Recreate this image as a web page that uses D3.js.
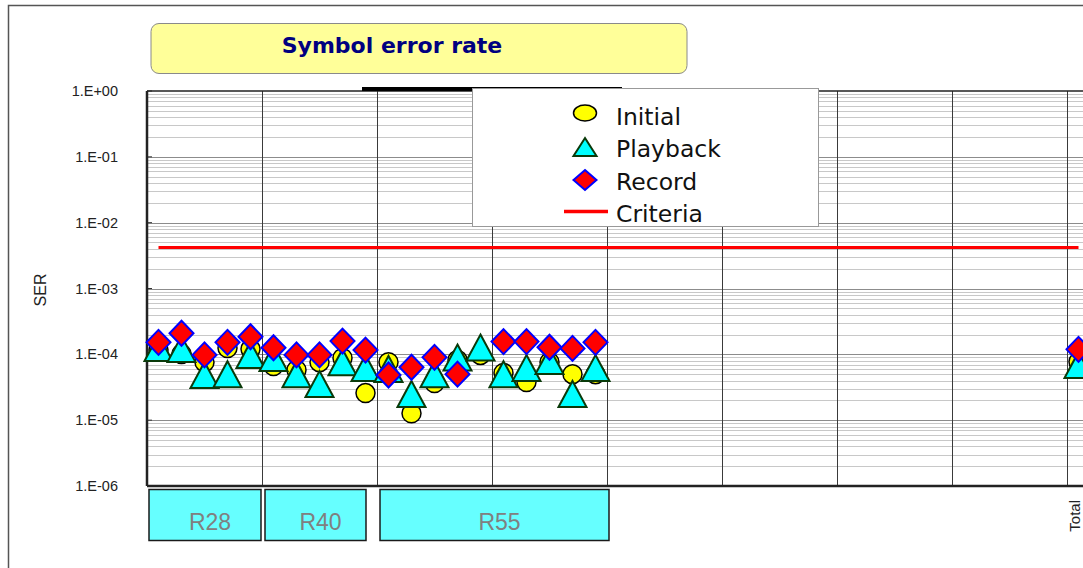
<!DOCTYPE html>
<html><head><meta charset="utf-8">
<script src="https://cdn.jsdelivr.net/npm/d3@7"></script>
<style>body{margin:0;background:#fff}svg{display:block}</style>
</head><body>
<svg id="chart" width="1083" height="568"></svg>
<script>
// ---------- DATA ----------
const categories = ["R28-1","R28-2","R28-3","R28-4","R28-5",
  "R40-1","R40-2","R40-3","R40-4","R40-5",
  "R55-1","R55-2","R55-3","R55-4","R55-5","R55-6","R55-7","R55-8","R55-9","R55-10",
  "e1","e2","e3","e4","e5","e6","e7","e8","e9","e10",
  "e11","e12","e13","e14","e15","e16","e17","e18","e19","e20",
  "Total"];
const tickLabels = ["","","","","","","","","","","","","","","","","","","","",
  "","","","","","","","","","","","","","","","","","","","","Total"];
const gap = [null,null,null,null,null,null,null,null,null,null,
             null,null,null,null,null,null,null,null,null,null];
const initialSer = [1.16e-4,1.01e-4,7.6e-5,1.25e-4,1.2e-4,
  6.65e-5,5.8e-5,7.6e-5,8.8e-5,2.58e-5,
  7.6e-5,1.27e-5,3.67e-5,8.2e-5,9.8e-5,5.2e-5,3.8e-5,7.6e-5,5.0e-5,5.0e-5,
  ...gap, 7.7e-5];
const playbackSer = [1.25e-4,1.2e-4,4.85e-5,5.0e-5,9.8e-5,
  8.8e-5,5.0e-5,3.54e-5,7.6e-5,6.2e-5,
  6.0e-5,2.5e-5,5.0e-5,8.95e-5,1.27e-4,5.0e-5,6.2e-5,7.9e-5,2.5e-5,6.2e-5,
  ...gap, 6.9e-5];
const recordSer = [1.52e-4,2.09e-4,9.8e-5,1.52e-4,1.85e-4,
  1.26e-4,9.8e-5,9.8e-5,1.59e-4,1.16e-4,
  4.85e-5,6.35e-5,9.0e-5,5.0e-5,null,1.56e-4,1.56e-4,1.28e-4,1.23e-4,1.52e-4,
  ...gap, 1.19e-4];
const criteriaValue = 4.2e-3;
const yTickValues = [1,1e-1,1e-2,1e-3,1e-4,1e-5,1e-6];
const yTickLabels = ["1.E+00","1.E-01","1.E-02","1.E-03","1.E-04","1.E-05","1.E-06"];
const groupNames = ["R28","R40","R55"];
const groupStart = [0,5,10];
const groupEnd = [4,9,19];
const legendNames = ["Initial","Playback","Record","Criteria"];

// ---------- LAYOUT ----------
const svg = d3.select("#chart");
const L = 147, T = 91, B = 486, step = 23;
const x = d3.scaleBand().domain(d3.range(categories.length))
  .range([L, L + step*categories.length]).paddingInner(0).paddingOuter(0);
const cx = i => x(i) + x.bandwidth()/2;
const y = d3.scaleLog().domain([1e-6, 1]).range([B, T]);
const R = L + step*categories.length;
const boxPad = [[2,1],[3,11],[3,-2]];

// outer frame
svg.append("path").attr("d", `M8.5,568 V5.5 H1083`).attr("fill","none")
  .attr("stroke","#555").attr("stroke-width",1.5);

// title box
svg.append("rect").attr("x",151).attr("y",23.5).attr("width",536).attr("height",50)
  .attr("rx",8).attr("fill","#FFFF99").attr("stroke","#8a8a8a").attr("stroke-width",1);
svg.append("text").attr("x",392).attr("y",52.5).attr("text-anchor","middle")
  .attr("font-family","'DejaVu Sans', sans-serif").attr("font-weight","bold")
  .attr("font-size",22).attr("fill","#000080").text("Symbol error rate");

// gridlines
const g = svg.append("g");
const minor = [];
for (let k=-6;k<0;k++) for (let m=2;m<=9;m++) minor.push(m*Math.pow(10,k));
g.selectAll(".minor").data(minor).join("line")
  .attr("x1",L).attr("x2",R).attr("y1",d=>Math.round(y(d))+0.5).attr("y2",d=>Math.round(y(d))+0.5)
  .attr("stroke","#c8c8c8").attr("stroke-width",1);
g.selectAll(".major").data(yTickValues.slice(1,-1)).join("line")
  .attr("x1",L).attr("x2",R).attr("y1",d=>Math.round(y(d))+0.5).attr("y2",d=>Math.round(y(d))+0.5)
  .attr("stroke","#8c8c8c").attr("stroke-width",1);
const vlines = d3.range(5, categories.length, 5);
g.selectAll(".v").data(vlines).join("line")
  .attr("x1",d=>x(d)+0.5).attr("x2",d=>x(d)+0.5).attr("y1",T).attr("y2",B)
  .attr("stroke","#3a3a3a").attr("stroke-width",1);

// y ticks (small inner ticks)
svg.selectAll(".yt").data(yTickValues).join("line")
  .attr("x1",L).attr("x2",L+5).attr("y1",d=>y(d)).attr("y2",d=>y(d))
  .attr("stroke","#333");

// plot borders
svg.append("line").attr("x1",L).attr("x2",R).attr("y1",T).attr("y2",T)
  .attr("stroke","#222").attr("stroke-width",1.5);
svg.append("line").attr("x1",L).attr("x2",R).attr("y1",B).attr("y2",B)
  .attr("stroke","#222").attr("stroke-width",2.5);
svg.append("line").attr("x1",L).attr("x2",L).attr("y1",T).attr("y2",B)
  .attr("stroke","#222").attr("stroke-width",2.5);
svg.append("line").attr("x1",362).attr("x2",622).attr("y1",89).attr("y2",89)
  .attr("stroke","#000").attr("stroke-width",4);

// y tick labels
svg.selectAll(".yl").data(yTickValues).join("text")
  .attr("x",118).attr("y",d=>y(d)).attr("dy","0.35em").attr("text-anchor","end")
  .attr("font-family","'Liberation Sans', Arial, sans-serif").attr("font-size",14.5)
  .attr("fill","#222").text((d,i)=>yTickLabels[i]);
svg.append("text").attr("transform","translate(46,290) rotate(-90)")
  .attr("text-anchor","middle").attr("font-family","'Liberation Sans', Arial, sans-serif")
  .attr("font-size",16).attr("fill","#222").text("SER");

// criteria line
svg.append("line").attr("x1",cx(0)).attr("x2",cx(categories.length-1))
  .attr("y1",y(criteriaValue)).attr("y2",y(criteriaValue))
  .attr("stroke","#FF0000").attr("stroke-width",3);

// markers
const triPath = "M0,-13 L14,13 L-14,13 Z";
const diaPath = "M0,-12.5 L12,0 L0,12.5 L-12,0 Z";
const pts = arr => arr.map((v,i)=>({v,i})).filter(d=>d.v!=null);
svg.append("g").selectAll("circle").data(pts(initialSer)).join("circle")
  .attr("cx",d=>cx(d.i)).attr("cy",d=>y(d.v)).attr("r",9.5)
  .attr("fill","#FFFF00").attr("stroke","#000").attr("stroke-width",1.5);
svg.append("g").selectAll("path").data(pts(playbackSer)).join("path")
  .attr("transform",d=>`translate(${cx(d.i)},${y(d.v)})`).attr("d",triPath)
  .attr("fill","#00FFFF").attr("stroke","#0a3a0a").attr("stroke-width",2);
svg.append("g").selectAll("path").data(pts(recordSer)).join("path")
  .attr("transform",d=>`translate(${cx(d.i)},${y(d.v)})`).attr("d",diaPath)
  .attr("fill","#FF0000").attr("stroke","#0000FF").attr("stroke-width",2);

// legend
const lg = svg.append("g");
lg.append("rect").attr("x",472.5).attr("y",88.5).attr("width",346).attr("height",138)
  .attr("fill","#fff").attr("stroke","#999").attr("stroke-width",1);
const ly = [117,149,182,214];
const lf = "'DejaVu Sans', Verdana, sans-serif";
lg.selectAll("text").data(legendNames).join("text")
  .attr("x",616).attr("y",(d,i)=>ly[i]).attr("dy","0.36em")
  .attr("font-family",lf).attr("font-size",23.5).attr("fill","#111").text(d=>d);
lg.append("ellipse").attr("cx",585).attr("cy",113).attr("rx",11.5).attr("ry",8)
  .attr("fill","#FFFF00").attr("stroke","#000").attr("stroke-width",1.5);
lg.append("path").attr("transform","translate(585,147)").attr("d","M0,-9 L11.5,9 L-11.5,9 Z")
  .attr("fill","#00FFFF").attr("stroke","#0a3a0a").attr("stroke-width",2);
lg.append("path").attr("transform","translate(585,180)").attr("d","M0,-10 L11.5,0 L0,10 L-11.5,0 Z")
  .attr("fill","#FF0000").attr("stroke","#0000FF").attr("stroke-width",2);
lg.append("line").attr("x1",564).attr("x2",608).attr("y1",211.5).attr("y2",211.5)
  .attr("stroke","#FF0000").attr("stroke-width",3.5);

// x tick labels (only Total visible)
svg.selectAll(".xl").data(tickLabels.map((t,i)=>({t,i})).filter(d=>d.t)).join("text")
  .attr("transform",d=>`translate(${Math.min(cx(d.i)+1.5, 1080)},500) rotate(-90)`)
  .attr("text-anchor","end")
  .attr("font-family","'Liberation Sans', Arial, sans-serif").attr("font-size",15)
  .attr("fill","#222").text(d=>d.t);

// group boxes
const gb = svg.append("g");
groupNames.forEach((n,k)=>{
  const x0 = x(groupStart[k]) + boxPad[k][0], x1 = x(groupEnd[k]) + step - boxPad[k][1];
  gb.append("rect").attr("x",x0).attr("y",489.5).attr("width",x1-x0).attr("height",51)
    .attr("fill","#66FFFF").attr("stroke","#1a1a1a").attr("stroke-width",1.5);
  gb.append("text").attr("x",(x0+x1)/2+5).attr("y",530).attr("text-anchor","middle")
    .attr("font-family","'Liberation Sans', Arial, sans-serif").attr("font-size",23)
    .attr("fill","#808080").text(n);
});
</script>
</body></html>
